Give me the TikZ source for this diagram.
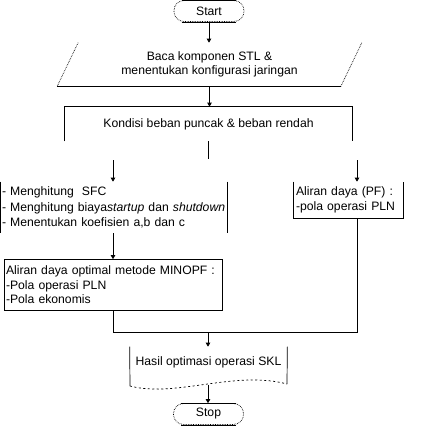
\documentclass[tikz,border=0pt]{standalone}
\usepackage{fontspec}
\setmainfont{Liberation Sans}
\usepackage{tikz}
\usetikzlibrary{arrows.meta}
\tikzset{
  font={\fontsize{12.2pt}{14.5pt}\selectfont},
  term/.style={draw, densely dotted, rounded corners=10pt, minimum width=70pt, minimum height=21pt, inner sep=0pt},
  txtbox/.style={inner sep=2pt, align=left},
  arr/.style={-{Triangle[length=4pt,width=4.5pt]}},
  wave/.style={dash pattern=on 2pt off 2.5pt}}

\begin{document}
\begin{tikzpicture}[x=1pt,y=-1pt,line width=0.7pt]
\useasboundingbox (0,0) rectangle (422,426);
\node [term] (start) at (209,11) {Start};
\node [minimum width=283pt, minimum height=43pt, align=center, inner sep=0pt] (in) at (209.5,64.5) {Baca komponen STL \&\\menentukan konfigurasi jaringan};
\node [minimum width=287pt, minimum height=34pt, inner sep=0pt] (cond) at (208.5,124) {Kondisi beban puncak \& beban rendah};
\node [txtbox, inner xsep=1pt, text width=224pt, minimum height=51pt, font={\fontsize{12.2pt}{15.5pt}\selectfont}] (hit) at (114,207.5) {- Menghitung \ SFC\\- Menghitung biaya\textit{startup} dan \textit{shutdown}\\- Menentukan koefisien a,b dan c};
\node [txtbox, text width=105pt, minimum height=36pt] (pf) at (348.5,200) {Aliran daya (PF) :\\-pola operasi PLN};
\node [txtbox, text width=214pt, minimum height=51pt, draw] (opf) at (113,285) {Aliran daya optimal metode MINOPF :\\-Pola operasi PLN\\-Pola ekonomis};
\node [minimum width=157pt, minimum height=30pt, inner sep=0pt] (res) at (208.5,362) {Hasil optimasi operasi SKL};
\node [term] (stop) at (208.5,414) {Stop};
\coordinate (j) at (208.5,159);
\coordinate (l) at (113,160);
\coordinate (r) at (357,160);
\coordinate (m) at (208,332);
\coordinate (wl) at (130,386);
\coordinate (wr) at (287,384);
\coordinate (wm) at (208,385);
\draw ([xshift=8pt]start.north west) -- ([xshift=-8pt]start.north east);
\draw ([xshift=8pt]start.south west) -- ([xshift=-8pt]start.south east);
\draw ([xshift=8pt]stop.north west) -- ([xshift=-8pt]stop.north east);
\draw ([xshift=8pt]stop.south west) -- ([xshift=-8pt]stop.south east);
\draw [densely dotted] ([xshift=10.5pt]in.north west) -- ([xshift=-10.5pt]in.south west);
\draw ([xshift=-10.5pt]in.south west) -- ([xshift=-10.5pt]in.south east);
\draw [densely dotted] ([xshift=-10.5pt]in.south east) -- ([xshift=10.5pt]in.north east);
\draw (cond.south west) -- (cond.north west) -- (cond.north east) -- (cond.south east);
\draw (hit.north west) -- (hit.south west);
\draw (hit.north east) -- (hit.south east);
\draw (pf.north west) -- (pf.south west) -- (pf.south east) -- (pf.north east);
\draw (res.north west) -- (wl);
\draw (res.north east) -- (wr);
\draw [wave] (wl) .. controls (175,398) and (235,370) .. (wr);
\draw [arr] (start) -- (start |- in.north);
\draw [arr] (in.south) -- (in.south |- cond.north);
\draw (cond.south) -- (j);
\draw [arr] (l) -- (l |- hit.north);
\draw [arr] (r) -- (r |- pf.north);
\draw [arr] (l |- hit.south) -- (opf);
\draw (opf.south) -- (opf.south |- m) -- (m -| r) -- (r |- pf.south);
\draw [arr] (m) -- (m |- res.north);
\draw [arr] (wm) -- (wm |- stop.north);
\end{tikzpicture}
\end{document}
